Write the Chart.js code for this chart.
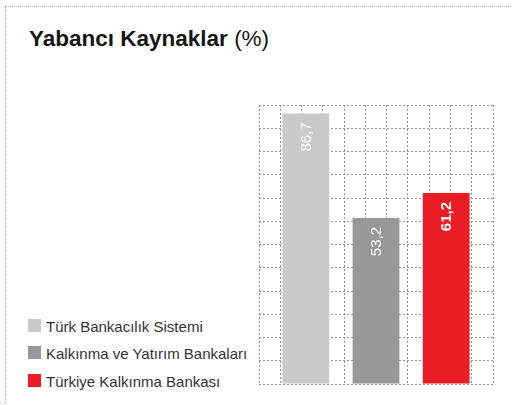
<!DOCTYPE html>
<html>
<head>
<meta charset="utf-8">
<script src="https://cdn.jsdelivr.net/npm/chart.js@4"></script>
<style>
  body { margin: 0; width: 512px; height: 405px; background: #fff; position: relative; overflow: hidden; font-family: "Liberation Sans", Arial, sans-serif; }
  .cerceve { position: absolute; left: 5px; top: 6px; width: 507px; height: 399px; border-top: 1px dotted #b5b5b5; border-left: 1px dotted #b5b5b5; }
  .baslik { position: absolute; left: 29px; top: 27px; font-size: 22.5px; line-height: 24px; color: #151515; font-weight: bold; white-space: nowrap; }
  .baslik span { font-weight: normal; }
  .lejant { position: absolute; left: 28px; top: 318px; }
  .lejant div { height: 27.3px; font-size: 15px; color: #333; white-space: nowrap; display: flex; align-items: flex-start; }
  .lejant i { display: inline-block; width: 13px; height: 13px; margin-right: 5px; margin-top: 1px; }
  #grafik { position: absolute; left: 250px; top: 95px; }
</style>
</head>
<body>
<div class="cerceve"></div>
<div class="baslik">Yabancı Kaynaklar <span>(%)</span></div>
<div class="lejant" id="lejant"></div>
<canvas id="grafik" width="252" height="300"></canvas>
<script>
const seriler = ['Türk Bankacılık Sistemi', 'Kalkınma ve Yatırım Bankaları', 'Türkiye Kalkınma Bankası']
const degerler = [86.7, 53.2, 61.2]
const renkler = ['#c8c9cb', '#97989c', '#ec1c24']
const kalinYazi = [false, false, true]

// sütunların içindeki dikey değer yazıları
const degerYazisi = {
    id: 'degerYazisi',
    afterDatasetsDraw(chart) {
        const ctx = chart.ctx
        chart.data.datasets.forEach((ds, i) => {
            const bar = chart.getDatasetMeta(i).data[0]
            ctx.save()
            ctx.translate(bar.x, bar.y + 9)
            ctx.rotate(-Math.PI / 2)
            ctx.fillStyle = '#fff'
            ctx.font = (kalinYazi[i] ? 'bold ' : '') + '15px "Liberation Sans", Arial, sans-serif'
            ctx.textAlign = 'right'
            ctx.textBaseline = 'middle'
            ctx.fillText(ds.data[0].toFixed(1).replace('.', ','), 0, 1)
            ctx.restore()
        })
    }
}

function grafik_Sutun() {
    const ctx = document.getElementById('grafik')

    const izgara = { color: '#959595', lineWidth: 1, drawTicks: false }

    new Chart(ctx, {
        type: 'bar',
        data: {
            labels: [''],
            datasets: seriler.map((s, i) => ({
                label: s,
                data: [degerler[i]],
                backgroundColor: renkler[i],
                borderWidth: 0
            }))
        },
        options: {
            responsive: false,
            animation: false,
            categoryPercentage: 0.9,
            barPercentage: 2 / 3,
            layout: { padding: { left: 9, right: 9, top: 10, bottom: 11 } },
            plugins: { legend: { display: false }, tooltip: { enabled: false } },
            scales: {
                x: { display: false },
                // sadece dikey ızgara çizgileri için
                xIzgara: {
                    type: 'linear',
                    position: 'bottom',
                    min: 0,
                    max: 10,
                    ticks: { display: false, stepSize: 1 },
                    grid: izgara,
                    border: { display: false, dash: [2, 2] },
                    afterFit: s => { s.height = 0 }
                },
                y: {
                    min: 0,
                    max: 89.4,
                    ticks: { display: false, count: 13 },
                    grid: izgara,
                    border: { display: false, dash: [2, 2] },
                    afterFit: s => { s.width = 0 }
                }
            }
        },
        plugins: [degerYazisi]
    })

    // lejant
    const lejant = document.getElementById('lejant')
    seriler.forEach((s, i) => {
        const satir = document.createElement('div')
        satir.innerHTML = '<i style="background:' + renkler[i] + '"></i>' + s
        lejant.appendChild(satir)
    })
}

grafik_Sutun()
</script>
</body>
</html>
